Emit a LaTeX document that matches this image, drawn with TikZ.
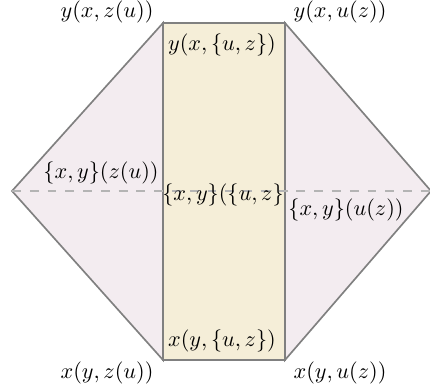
\documentclass[tikz,border=0pt]{standalone}
\definecolor{sidefill}{RGB}{243,236,240}
\definecolor{midfill}{RGB}{245,238,216}
\definecolor{edgegray}{RGB}{128,128,128}
\definecolor{dashgray}{RGB}{180,180,180}
\begin{document}
\begin{tikzpicture}[x=0.45pt,y=0.45pt,
  edge/.style={draw=edgegray,line width=0.75pt,line join=miter},
  side/.style={edge,fill=sidefill},
  mid/.style={edge,fill=midfill},
  lbl/.style={inner sep=0pt,font=\normalsize}]
\useasboundingbox (0,0) rectangle (430,392);
\coordinate (tl) at (163,369);
\coordinate (tr) at (285,369);
\coordinate (bl) at (163,32);
\coordinate (br) at (285,32);
\coordinate (lv) at (12,201);
\coordinate (rv) at (431,201);
\path[side] (tl) -- (lv) -- (bl) -- cycle;
\path[side] (tr) -- (rv) -- (br) -- cycle;
\path[mid] (bl) rectangle (tr);
\draw[dashgray,line width=0.7pt,dash pattern=on 4pt off 4pt] (lv) -- (rv);
\node[lbl] (a) at (107,380) {$y(x,z(u))$};
\node[lbl] (b) at (340,380) {$y(x,u(z))$};
\node[lbl] (c) at (222,347) {$y(x,\{u,z\})$};
\node[lbl] (d) at (101,219) {$\{x,y\}(z(u))$};
\node[lbl] (e) at (223,197) {$\{x,y\}(\{u,z\}$};
\node[lbl] (f) at (346,182) {$\{x,y\}(u(z))$};
\node[lbl] (g) at (222,51) {$x(y,\{u,z\})$};
\node[lbl] (h) at (107,19) {$x(y,z(u))$};
\node[lbl] (i) at (340,19) {$x(y,u(z))$};
\end{tikzpicture}
\end{document}
